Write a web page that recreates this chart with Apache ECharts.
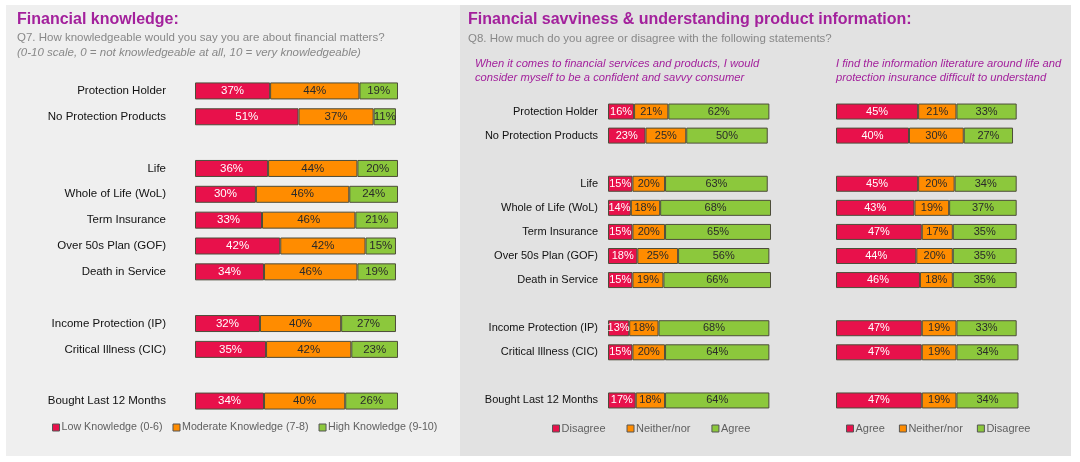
<!DOCTYPE html>
<html>
<head>
<meta charset="utf-8">
<script src="https://cdn.jsdelivr.net/npm/echarts@6/dist/echarts.min.js"></script>
<style>
  html, body { margin: 0; padding: 0; background: #fff; }
  #chart { width: 1080px; height: 462px; }
</style>
</head>
<body>
<div id="chart"></div>
<script>
// rows — '' = spacer row between groups
const categories = [
  'Protection Holder', 'No Protection Products', '',
  'Life', 'Whole of Life (WoL)', 'Term Insurance', 'Over 50s Plan (GOF)', 'Death in Service', '',
  'Income Protection (IP)', 'Critical Illness (CIC)', '',
  'Bought Last 12 Months'
];

// Q7 knowledge
const knowLow  = [37, 51, null, 36, 30, 33, 42, 34, null, 32, 35, null, 34];
const knowMod  = [44, 37, null, 44, 46, 46, 42, 46, null, 40, 42, null, 40];
const knowHigh = [19, 11, null, 20, 24, 21, 15, 19, null, 27, 23, null, 26];

// Q8 confident & savvy consumer
const savvyDisagree = [16, 23, null, 15, 14, 15, 18, 15, null, 13, 15, null, 17];
const savvyNeither  = [21, 25, null, 20, 18, 20, 25, 19, null, 18, 20, null, 18];
const savvyAgree    = [62, 50, null, 63, 68, 65, 56, 66, null, 68, 64, null, 64];

// Q8 literature difficult to understand
const litAgree    = [45, 40, null, 45, 43, 47, 44, 46, null, 47, 47, null, 47];
const litNeither  = [21, 30, null, 20, 19, 17, 20, 18, null, 19, 19, null, 19];
const litDisagree = [33, 27, null, 34, 37, 35, 35, 35, null, 33, 34, null, 34];

const RED = '#e8114b', ORANGE = '#ff8c00', GREEN = '#8cc83c';
const PURPLE = '#a3219c';

const chart = echarts.init(document.getElementById('chart'));

function barSeries(name, data, color, idx, txtColor) {
  return {
    name: name,
    type: 'bar',
    stack: 'g' + idx,
    xAxisIndex: idx,
    yAxisIndex: idx,
    data: data,
    barWidth: idx === 0 ? 17 : 16,
    itemStyle: { color: color, borderColor: '#4d4d3a', borderWidth: 1 },
    label: {
      show: true,
      position: 'inside',
      formatter: '{c}%',
      fontFamily: 'Liberation Sans',
      fontSize: idx === 0 ? 11.5 : 11,
      color: txtColor
    },
    emphasis: { disabled: true }
  };
}

function yAx(idx, showLabels, size, margin) {
  return {
    type: 'category',
    gridIndex: idx,
    data: categories,
    inverse: true,
    axisLine: { show: false },
    axisTick: { show: false },
    axisLabel: {
      show: showLabels,
      color: '#111',
      fontFamily: 'Liberation Sans',
      fontSize: size,
      margin: margin
    }
  };
}

function xAx(idx) {
  return { type: 'value', gridIndex: idx, min: 0, max: 100, show: false };
}

// 图例文字 — 负 padding 让文字贴近色块
function legendText(size) {
  return { color: '#5f5f5f', fontFamily: 'Liberation Sans', fontSize: size, padding: [0, 0, 0, -3] };
}
const legendIcon = { borderColor: '#555', borderWidth: 1 };

chart.setOption({
  animation: false,
  graphic: [
    { type: 'rect', shape: { x: 6, y: 5, width: 454, height: 451 }, style: { fill: '#efefef' }, z: -10 },
    { type: 'rect', shape: { x: 460, y: 5, width: 611, height: 451 }, style: { fill: '#e2e2e2' }, z: -10 },
    { type: 'text', left: 17, top: 12, style: { text: 'Financial knowledge:', fill: PURPLE, font: 'bold 16px "Liberation Sans"' } },
    { type: 'text', left: 17, top: 32, style: { text: 'Q7. How knowledgeable would you say you are about financial matters?', fill: '#888', font: '11.5px "Liberation Sans"' } },
    { type: 'text', left: 17, top: 47, style: { text: '(0-10 scale, 0 = not knowledgeable at all, 10 = very knowledgeable)', fill: '#888', font: 'italic 11.5px "Liberation Sans"' } },
    { type: 'text', left: 468, top: 12, style: { text: 'Financial savviness & understanding product information:', fill: PURPLE, font: 'bold 16px "Liberation Sans"' } },
    { type: 'text', left: 468, top: 33, style: { text: 'Q8. How much do you agree or disagree with the following statements?', fill: '#888', font: '11.5px "Liberation Sans"' } },
    { type: 'text', left: 475, top: 57, style: { text: 'When it comes to financial services and products, I would\nconsider myself to be a confident and savvy consumer', fill: PURPLE, font: 'italic 11.2px "Liberation Sans"', lineHeight: 14 } },
    { type: 'text', left: 836, top: 57, style: { text: 'I find the information literature around life and\nprotection insurance difficult to understand', fill: PURPLE, font: 'italic 11.2px "Liberation Sans"', lineHeight: 14 } }
  ],
  legend: [
    {
      left: 52, top: 422, padding: 0, itemWidth: 7, itemHeight: 7, itemGap: 10,
      icon: 'rect', textStyle: legendText(10.7), itemStyle: legendIcon,
      data: ['Low Knowledge (0-6)', 'Moderate Knowledge (7-8)', 'High Knowledge (9-10)']
    },
    {
      left: 552, top: 423, padding: 0, itemWidth: 7, itemHeight: 7, itemGap: 21,
      icon: 'rect', textStyle: legendText(11), itemStyle: legendIcon,
      data: ['Disagree', 'Neither/nor', 'Agree']
    },
    {
      left: 846, top: 423, padding: 0, itemWidth: 7, itemHeight: 7, itemGap: 11,
      icon: 'rect', textStyle: legendText(11), itemStyle: legendIcon,
      data: ['Agree ', 'Neither/nor ', 'Disagree ']
    }
  ],
  grid: [
    { left: 195, width: 203, top: 78, height: 336 },
    { left: 608, width: 163, top: 99.5, height: 313 },
    { left: 836, width: 182.5, top: 99.5, height: 313 }
  ],
  xAxis: [xAx(0), xAx(1), xAx(2)],
  yAxis: [yAx(0, true, 11.5, 29), yAx(1, true, 11, 10), yAx(2, false, 11, 8)],
  series: [
    barSeries('Low Knowledge (0-6)', knowLow, RED, 0, '#fff'),
    barSeries('Moderate Knowledge (7-8)', knowMod, ORANGE, 0, '#2a2a2a'),
    barSeries('High Knowledge (9-10)', knowHigh, GREEN, 0, '#2a2a2a'),
    barSeries('Disagree', savvyDisagree, RED, 1, '#fff'),
    barSeries('Neither/nor', savvyNeither, ORANGE, 1, '#2a2a2a'),
    barSeries('Agree', savvyAgree, GREEN, 1, '#2a2a2a'),
    barSeries('Agree ', litAgree, RED, 2, '#fff'),
    barSeries('Neither/nor ', litNeither, ORANGE, 2, '#2a2a2a'),
    barSeries('Disagree ', litDisagree, GREEN, 2, '#2a2a2a')
  ]
});
</script>
</body>
</html>
